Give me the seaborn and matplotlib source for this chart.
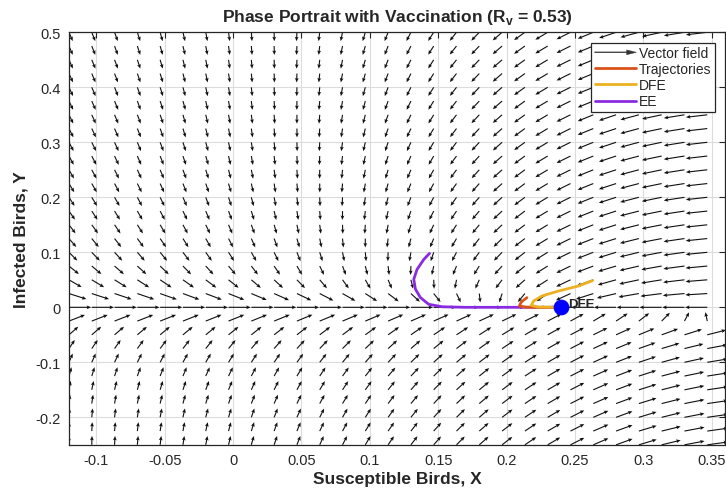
import numpy as np
import matplotlib
matplotlib.use("Agg")
import matplotlib.pyplot as plt
import matplotlib.patches as mpatches
from matplotlib.lines import Line2D
from matplotlib.legend_handler import HandlerPatch
import pandas as pd
import seaborn as sns

# Model parameters (field fitted to the picture)
lam = 0.012      # recruitment
m_s = 0.05       # susceptible removal (death + vaccination)
beta_s = 0.6     # infection loss from susceptibles
beta_i = 1.2     # infection gain for infected
k_i = 0.48       # infected removal
r_v = 0.53

# Grid for the vector field
x_grid = -0.12 + np.arange(29) / 60
y_grid = -0.25 + np.arange(31) * 0.025

# Trajectories
traj_x = [0.2148, 0.2107, 0.2093, 0.2140, 0.2250, 0.2355]
traj_y = [0.0176, 0.0097, 0.0024, 0.0003, 0.0, 0.0]

dfe_x = [0.2628, 0.2526, 0.2380, 0.2258, 0.2197, 0.2180, 0.2230, 0.2355]
dfe_y = [0.0485, 0.0388, 0.0297, 0.0206, 0.0115, 0.0036, 0.0005, 0.0]

ee_x = [0.1436, 0.1394, 0.1345, 0.1321, 0.1333, 0.1370, 0.1430, 0.1528, 0.1700, 0.2000, 0.2355]
ee_y = [0.0980, 0.0870, 0.0690, 0.0510, 0.0330, 0.0176, 0.0055, 0.0010, 0.0, 0.0, 0.0]

dfe_point = (0.24, 0.0)

# Vector field (normalised)
X, Y = np.meshgrid(x_grid, y_grid)
dX = lam - beta_s * X * Y - m_s * X
dY = beta_i * X * Y - k_i * Y
mag = np.hypot(dX, dY)
mag[mag == 0] = 1
U = dX / mag
V = dY / mag

sns.set_theme(style="white")
plt.rcParams["font.family"] = ["Liberation Sans", "DejaVu Sans"]
plt.rcParams["mathtext.fontset"] = "custom"
plt.rcParams["mathtext.bf"] = "Liberation Sans:bold"
plt.rcParams["mathtext.rm"] = "Liberation Sans"

fig = plt.figure(figsize=(7.26, 4.89), dpi=100)
ax = fig.add_axes([0.095, 0.0883, 0.9043, 0.8436])

ink = "#262626"
ax.quiver(X, Y, U, V, angles="xy", scale_units="xy", scale=1 / 0.0162,
          width=0.0017, headwidth=3.4, headlength=4.0, headaxislength=3.4,
          color="#111111", zorder=2)

df_traj = pd.DataFrame({"x": traj_x, "y": traj_y})
df_dfe = pd.DataFrame({"x": dfe_x, "y": dfe_y})
df_ee = pd.DataFrame({"x": ee_x, "y": ee_y})

c_traj = "#d95319"
c_dfe = "#edb120"
c_ee = "#8a2be2"

sns.lineplot(data=df_ee, x="x", y="y", sort=False, estimator=None,
             color=c_ee, linewidth=2, ax=ax, zorder=3)
sns.lineplot(data=df_traj, x="x", y="y", sort=False, estimator=None,
             color=c_traj, linewidth=2, ax=ax, zorder=4)
sns.lineplot(data=df_dfe, x="x", y="y", sort=False, estimator=None,
             color=c_dfe, linewidth=2, ax=ax, zorder=4)
sns.scatterplot(x=[dfe_point[0]], y=[dfe_point[1]], color="#0000ff", s=110,
                edgecolor="#0000ff", ax=ax, zorder=5)
ax.text(dfe_point[0] + 0.0052, dfe_point[1], "DFE", fontsize=9.5,
        fontweight="bold", color=ink, ha="left", va="baseline", zorder=6)

ax.set_xlim(-0.12, 0.36)
ax.set_ylim(-0.25, 0.5)
ax.set_xticks([-0.1, -0.05, 0, 0.05, 0.1, 0.15, 0.2, 0.25, 0.3, 0.35])
ax.set_xticklabels(["-0.1", "-0.05", "0", "0.05", "0.1", "0.15", "0.2", "0.25", "0.3", "0.35"])
ax.set_yticks([-0.2, -0.1, 0, 0.1, 0.2, 0.3, 0.4, 0.5])
ax.set_yticklabels(["-0.2", "-0.1", "0", "0.1", "0.2", "0.3", "0.4", "0.5"])
ax.grid(True, color="#dcdcdc", linewidth=0.8, zorder=0)
ax.set_axisbelow(True)
ax.tick_params(direction="in", top=True, right=True, length=4, width=0.8,
               colors=ink, labelsize=10.5, pad=6)
for s in ax.spines.values():
    s.set_color(ink)
    s.set_linewidth(0.9)

ax.set_xlabel("Susceptible Birds, X", fontsize=12.5, fontweight="bold", color=ink, labelpad=3)
ax.set_ylabel("Infected Birds, Y", fontsize=12.5, fontweight="bold", color=ink, labelpad=5)
ax.set_title(r"Phase Portrait with Vaccination (R$_\mathbf{v}$ = " + f"{r_v:.2f})",
             fontsize=12.5, fontweight="bold", color=ink, pad=8)


def make_arrow(legend, orig_handle, xdescent, ydescent, width, height, fontsize):
    return mpatches.FancyArrow(-xdescent, 0.5 * height - ydescent, width, 0,
                               width=0.6, head_width=3.5, head_length=7,
                               length_includes_head=True)


arrow_proxy = mpatches.FancyArrow(0, 0, 1, 0, facecolor="#333333",
                                  edgecolor="#333333", linewidth=0.3)
handles = [
    arrow_proxy,
    Line2D([], [], color=c_traj, linewidth=2),
    Line2D([], [], color=c_dfe, linewidth=2),
    Line2D([], [], color=c_ee, linewidth=2),
]
labels = ["Vector field", "Trajectories", "DFE", "EE"]
leg = ax.legend(handles, labels, loc="upper right", fontsize=10,
                handlelength=3.0, handletextpad=0.2, labelspacing=0.15,
                borderaxespad=0.75, borderpad=0.25, fancybox=False,
                framealpha=1, edgecolor=ink,
                handler_map={mpatches.FancyArrow: HandlerPatch(patch_func=make_arrow)})
leg.get_frame().set_linewidth(0.9)
leg.set_zorder(10)

fig.savefig("out.png", dpi=100)
